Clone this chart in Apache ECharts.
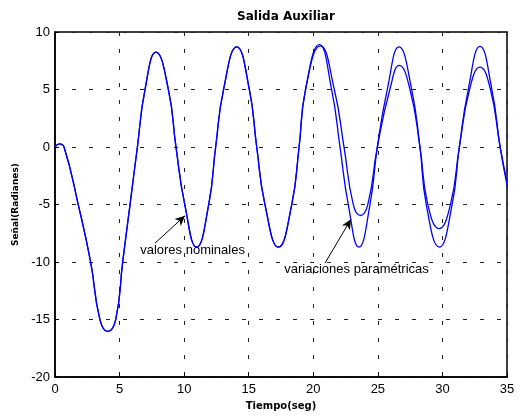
<!DOCTYPE html>
<html>
<head>
<meta charset="utf-8">
<script src="https://cdn.jsdelivr.net/npm/echarts@6/dist/echarts.min.js"></script>
<style>
  html, body { margin: 0; padding: 0; background: #fff; }
  #main { width: 519px; height: 416px; }
</style>
</head>
<body>
<div id="main"></div>
<script>
// valores
var tNominal = [0, 0.33, 0.7, 1.8, 2.76, 3.48, 4.08, 4.7, 5.24, 5.81, 6.38, 6.97, 7.82, 8.78, 9.37,
  10.05, 10.97, 11.9, 12.44, 13.05, 14.07, 15.05, 15.62, 16.26, 17.3, 18.33, 18.9, 19.4,
  20.47, 21.42, 22.07, 22.71, 23.54, 24.39, 24.96, 25.73, 26.64, 27.62, 28.26, 28.75,
  29.76, 30.75, 31.31, 32.0, 32.91, 33.83, 34.47, 35];
var yNominal = [0, 0.28, 0, -5, -10, -15, -16.03, -15, -10, -5, 0, 5, 8.25, 5, 0,
  -5, -8.7, -5, 0, 5, 8.7, 5, 0, -5, -8.7, -5, 0, 5,
  8.9, 5, 0, -5, -8.7, -5, 0, 5, 8.7, 5, 0, -5,
  -8.7, -5, 0, 5, 8.75, 5, 0, -3.3];

var tVariacion = [0, 0.33, 0.7, 1.8, 2.76, 3.48, 4.08, 4.7, 5.24, 5.81, 6.38, 6.97, 7.82, 8.78, 9.37,
  10.05, 10.97, 11.9, 12.44, 13.05, 14.07, 15.05, 15.62, 16.26, 17.3, 18.33, 18.9, 19.4,
  20.55, 21.63, 22.38, 23.1, 23.65, 24.22, 24.96, 25.93, 26.66, 27.49, 28.26, 28.87,
  29.74, 30.62, 31.31, 32.1, 32.91, 33.72, 34.47, 35];
var yVariacion = [0, 0.28, 0, -5, -10, -15, -16.03, -15, -10, -5, 0, 5, 8.25, 5, 0,
  -5, -8.7, -5, 0, 5, 8.7, 5, 0, -5, -8.7, -5, 0, 5,
  8.8, 5, 0, -5, -5.95, -5, 0, 5, 7.1, 5, 0, -5,
  -7.1, -5, 0, 5, 6.95, 5, 0, -3.0];

// anotaciones (flecha: inicio -> punta, texto en coordenadas de datos)
var flechaNominal = [[7.74, -8.36], [10.07, -5.97]];
var flechaVariacion = [[20.91, -10.09], [22.92, -6.27]];
var textoNominal = ['valores nominales', 10.65, -8.97];
var textoVariacion = ['variaciones paramétricas', 23.35, -10.66];

function pares(t, y) {
  var out = [];
  for (var i = 0; i < t.length; i++) out.push([t[i], y[i]]);
  return out;
}

var chart = echarts.init(document.getElementById('main'));
var gridDash = { color: '#222', width: 1, type: [4, 13] };
var option = {
  backgroundColor: '#fff',
  animation: false,
  title: {
    text: 'Salida Auxiliar',
    left: 281,
    top: 6,
    textAlign: 'center',
    textStyle: { fontFamily: 'DejaVu Sans', fontSize: 12, fontWeight: 'bold', color: '#000' }
  },
  grid: {
    left: 55, right: 12, top: 32, bottom: 36,
    show: true, borderColor: '#000', borderWidth: 1.5, backgroundColor: '#fff'
  },
  xAxis: {
    type: 'value', min: 0, max: 35, interval: 5,
    name: 'Tiempo(seg)', nameLocation: 'middle', nameGap: 22,
    nameTextStyle: { fontFamily: 'DejaVu Sans', fontSize: 10, fontWeight: 'bold', color: '#000' },
    axisLine: { show: true, onZero: false, lineStyle: { color: '#000', width: 1.5 } },
    axisTick: { show: true, inside: true, length: 4, lineStyle: { color: '#000' } },
    axisLabel: { fontFamily: 'Liberation Sans', fontSize: 13, color: '#000', margin: 6 },
    splitLine: { show: true, lineStyle: gridDash }
  },
  yAxis: {
    type: 'value', min: -20, max: 10, interval: 5,
    name: 'Señal(Radianes)', nameLocation: 'middle', nameGap: 33,
    nameTextStyle: { fontFamily: 'DejaVu Sans', fontSize: 9, fontWeight: 'bold', color: '#000' },
    axisLine: { show: true, onZero: false, lineStyle: { color: '#000', width: 1.5 } },
    axisTick: { show: true, inside: true, length: 4, lineStyle: { color: '#000' } },
    axisLabel: { fontFamily: 'Liberation Sans', fontSize: 13, color: '#000', margin: 5 },
    splitLine: { show: true, lineStyle: gridDash }
  },
  series: [
    {
      name: 'valores nominales',
      type: 'line',
      data: pares(tNominal, yNominal),
      showSymbol: false,
      smooth: 0.5,
      lineStyle: { color: '#0000ff', width: 1.3 },
      markLine: {
        silent: true,
        symbol: ['none', 'arrow'],
        symbolSize: [7, 10],
        label: { show: false },
        lineStyle: { color: '#000', width: 1, type: 'solid' },
        data: [
          [{ coord: flechaNominal[0] }, { coord: flechaNominal[1] }],
          [{ coord: flechaVariacion[0] }, { coord: flechaVariacion[1] }]
        ]
      },
      markPoint: {
        silent: true,
        symbol: 'circle',
        symbolSize: 0,
        label: {
          show: true, position: 'inside', formatter: '{b}',
          fontFamily: 'Liberation Sans', fontSize: 13, color: '#000'
        },
        data: [
          { name: textoNominal[0], coord: [textoNominal[1], textoNominal[2]] },
          { name: textoVariacion[0], coord: [textoVariacion[1], textoVariacion[2]] }
        ]
      }
    },
    {
      name: 'variaciones paramétricas',
      type: 'line',
      data: pares(tVariacion, yVariacion),
      showSymbol: false,
      smooth: 0.5,
      lineStyle: { color: '#0000ff', width: 1.3 }
    }
  ]
};
chart.setOption(option);
</script>
</body>
</html>
